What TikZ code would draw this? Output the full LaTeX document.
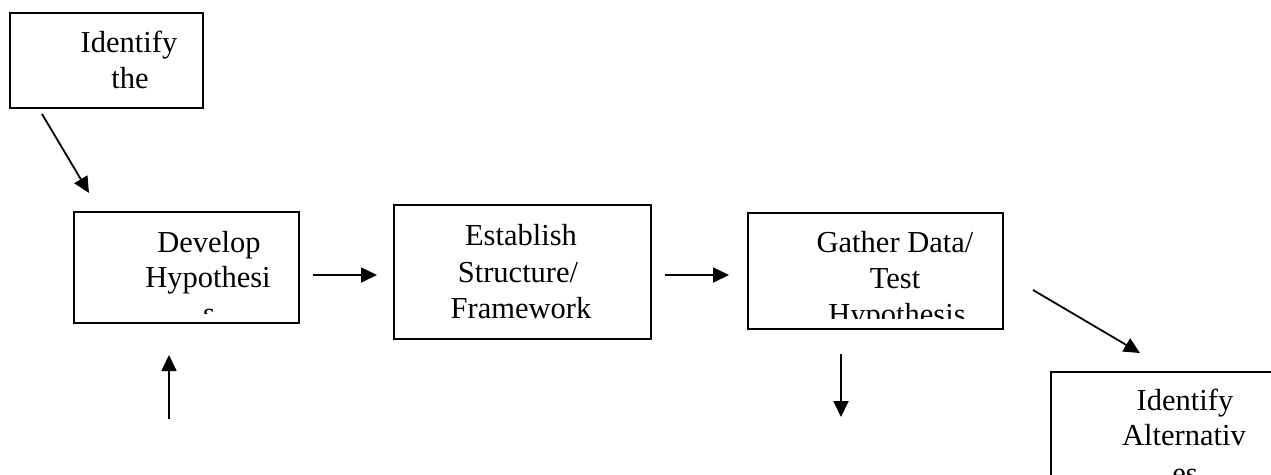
\documentclass[tikz,border=0pt]{standalone}
\usepackage{fontspec}
\setmainfont{Liberation Serif}
\usetikzlibrary{arrows.meta}
\begin{document}
\begin{tikzpicture}[x=1pt,y=1pt,
  boxline/.style={draw=black,line width=1.7pt},
  txt/.style={anchor=base,inner sep=0pt,font=\fontsize{30.5}{36}\selectfont},
  conn/.style={line width=1.8pt,-{Triangle[length=16pt,width=15pt]}}]
\useasboundingbox (0,0) rectangle (1271,-474);
\clip (0,0) rectangle (1271,-474);
% boxes
\node[boxline,minimum width=193pt,minimum height=95pt,inner sep=0pt,anchor=north west] (idp) at (9,-12) {};
\node[boxline,minimum width=225pt,minimum height=111pt,inner sep=0pt,anchor=north west] (dev) at (73,-211) {};
\node[boxline,minimum width=257pt,minimum height=134pt,inner sep=0pt,anchor=north west] (est) at (393,-204) {};
\node[boxline,minimum width=255pt,minimum height=116pt,inner sep=0pt,anchor=north west] (gat) at (747,-212) {};
\node[boxline,minimum width=260pt,minimum height=140pt,inner sep=0pt,anchor=north west] (alt) at (1050,-371) {};
% texts
\node[txt] (idp1) at (129,-52) {Identify};
\node[txt] (idp2) at (130,-88) {the};
\begin{scope}
\clip (73,-211) rectangle (298,-313);
\node[txt] (dev1) at (209,-252) {Develop};
\node[txt] (dev2) at (208,-287) {Hypothesi};
\node[txt] (dev3) at (209,-323) {s};
\end{scope}
\node[txt] (est1) at (521,-245) {Establish};
\node[txt] (est2) at (518,-282) {Structure/};
\node[txt] (est3) at (521,-318) {Framework};
\begin{scope}
\clip (747,-212) rectangle (1002,-318);
\node[txt] (gat1) at (895,-252) {Gather Data/};
\node[txt] (gat2) at (895,-288) {Test};
\node[txt] (gat3) at (897,-324) {Hypothesis};
\end{scope}
\node[txt] (alt1) at (1185,-410) {Identify};
\node[txt] (alt2) at (1184,-445) {Alternativ};
\node[txt] (alt3) at (1185,-483) {es};
% connector ends
\coordinate (a1s) at (42,-114);  \coordinate (a1e) at (89,-193);
\coordinate (a2s) at (313,-275); \coordinate (a2e) at (377,-275);
\coordinate (a3s) at (665,-275); \coordinate (a3e) at (729,-275);
\coordinate (a4s) at (1033,-290); \coordinate (a4e) at (1140,-353);
\coordinate (a5s) at (841,-354); \coordinate (a5e) at (841,-417);
\coordinate (a6s) at (169,-419); \coordinate (a6e) at (169,-355);
\draw[conn] (a1s) -- (a1e);
\draw[conn] (a2s) -- (a2e);
\draw[conn] (a3s) -- (a3e);
\draw[conn] (a4s) -- (a4e);
\draw[conn] (a5s) -- (a5e);
\draw[conn] (a6s) -- (a6e);
\end{tikzpicture}
\end{document}
